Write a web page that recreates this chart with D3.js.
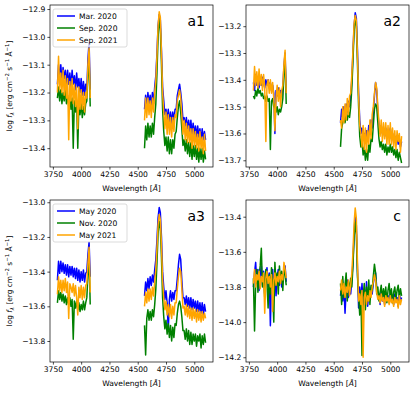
<!DOCTYPE html>
<meta charset="utf-8">
<script src="https://d3js.org/d3.v7.min.js"></script>
<style>
  body { margin: 0; background: #fff; }
  svg { font-family: "DejaVu Sans", sans-serif; }
  .tick text { fill: #000; }
</style>
<div id="viz_area"></div>
<script>
// wavelength grids (Angstrom) of the two spectral windows
var wlBlue = [3790, 3800, 3810, 3820, 3830, 3840, 3850, 3860, 3870, 3880, 3890, 3900, 3910, 3920, 3930,
  3940, 3950, 3960, 3970, 3980, 3990, 4000, 4010, 4020, 4030, 4040, 4050, 4060, 4070, 4080]
var wlRed = [4560, 4570, 4580, 4590, 4600, 4610, 4620, 4630, 4640, 4650, 4660, 4670, 4680, 4690, 4700,
  4710, 4720, 4730, 4740, 4750, 4760, 4770, 4780, 4790, 4800, 4810, 4820, 4830, 4840, 4850,
  4860, 4870, 4880, 4890, 4900, 4910, 4920, 4930, 4940, 4950, 4960, 4970, 4980, 4990, 5000,
  5010, 5020, 5030, 5040, 5050, 5060, 5070, 5080, 5090, 5100]

var xTicks = [3750, 4000, 4250, 4500, 4750, 5000]

// ---- a1 ----
var a1Names = ["Mar. 2020", "Sep. 2020", "Sep. 2021"]
var a1Ticks = [-12.9, -13.0, -13.1, -13.2, -13.3, -13.4]
var a1S1Blue = [-13.17, -13.10, -13.15, -13.10, -13.16, -13.11, -13.15, -13.12, -13.17, -13.12, -13.17, -13.13, -13.18, -13.12, -13.17,
  -13.14, -13.19, -13.13, -13.18, -13.15, -13.20, -13.15, -13.21, -13.16, -13.21, -13.17, -13.19, -13.08, -13.02, -13.19]
var a1S1Red = [-13.26, -13.21, -13.25, -13.20, -13.24, -13.21, -13.25, -13.20, -13.24, -13.18, -13.14, -13.06, -12.96, -12.92, -12.94,
  -13.05, -13.18, -13.23, -13.28, -13.26, -13.30, -13.26, -13.31, -13.27, -13.31, -13.27, -13.30, -13.26, -13.26, -13.21,
  -13.19, -13.17, -13.20, -13.24, -13.30, -13.29, -13.32, -13.29, -13.33, -13.30, -13.34, -13.30, -13.35, -13.31, -13.35,
  -13.32, -13.36, -13.32, -13.36, -13.33, -13.37, -13.33, -13.37, -13.34, -13.37]
var a1S2Blue = [-13.22, -13.18, -13.23, -13.19, -13.24, -13.20, -13.23, -13.19, -13.24, -13.21, -13.25, -13.21, -13.26, -13.22, -13.40,
  -13.23, -13.27, -13.23, -13.40, -13.24, -13.28, -13.24, -13.29, -13.25, -13.28, -13.24, -13.23, -13.14, -13.08, -13.25]
var a1S2Red = [-13.40, -13.32, -13.37, -13.31, -13.36, -13.32, -13.36, -13.31, -13.35, -13.29, -13.24, -13.13, -13.00, -12.94, -12.97,
  -13.10, -13.26, -13.34, -13.39, -13.36, -13.41, -13.36, -13.42, -13.37, -13.42, -13.37, -13.40, -13.35, -13.34, -13.29,
  -13.25, -13.23, -13.27, -13.33, -13.39, -13.37, -13.41, -13.37, -13.42, -13.38, -13.43, -13.38, -13.44, -13.39, -13.43,
  -13.39, -13.44, -13.40, -13.45, -13.40, -13.44, -13.40, -13.45, -13.41, -13.44]
var a1S3Blue = [-13.20, -13.07, -13.19, -13.13, -13.20, -13.12, -13.21, -13.14, -13.22, -13.15, -13.37, -13.16, -13.23, -13.15, -13.24,
  -13.17, -13.25, -13.18, -13.33, -13.18, -13.26, -13.19, -13.26, -13.20, -13.27, -13.20, -13.22, -13.10, -13.04, -13.22]
var a1S3Red = [-13.30, -13.22, -13.29, -13.22, -13.28, -13.23, -13.29, -13.22, -13.27, -13.20, -13.16, -13.07, -12.96, -12.91, -12.93,
  -13.06, -13.20, -13.27, -13.33, -13.27, -13.35, -13.28, -13.35, -13.29, -13.36, -13.29, -13.34, -13.28, -13.29, -13.23,
  -13.21, -13.19, -13.22, -13.28, -13.35, -13.30, -13.37, -13.31, -13.38, -13.32, -13.38, -13.33, -13.40, -13.33, -13.39,
  -13.34, -13.40, -13.35, -13.41, -13.34, -13.40, -13.36, -13.42, -13.35, -13.41]

// ---- a2 ----
var a2Ticks = [-13.2, -13.3, -13.4, -13.5, -13.6, -13.7]
var a2S1Blue = [-13.41, -13.44, -13.38, -13.42, -13.39, -13.43, -13.40, -13.42, -13.39, -13.41, -13.43, -13.40, -13.42, -13.40, -13.43,
  -13.41, -13.44, -13.42, -13.45, -13.60, -13.44, -13.46, -13.43, -13.45, -13.44, -13.46, -13.43, -13.35, -13.30, -13.45]
var a2S1Red = [-13.56, -13.51, -13.54, -13.50, -13.53, -13.49, -13.52, -13.48, -13.50, -13.46, -13.40, -13.30, -13.20, -13.15, -13.17,
  -13.29, -13.45, -13.55, -13.60, -13.58, -13.62, -13.60, -13.63, -13.59, -13.62, -13.57, -13.59, -13.55, -13.58, -13.52,
  -13.46, -13.41, -13.44, -13.52, -13.57, -13.60, -13.57, -13.60, -13.58, -13.61, -13.58, -13.62, -13.59, -13.61, -13.58,
  -13.62, -13.60, -13.63, -13.61, -13.64, -13.61, -13.64, -13.62, -13.65, -13.63]
var a2S2Blue = [-13.46, -13.47, -13.44, -13.46, -13.43, -13.45, -13.44, -13.46, -13.45, -13.47, -13.46, -13.48, -13.46, -13.48, -13.47,
  -13.66, -13.48, -13.47, -13.50, -13.49, -13.52, -13.50, -13.53, -13.51, -13.52, -13.50, -13.47, -13.38, -13.32, -13.49]
var a2S2Red = [-13.65, -13.58, -13.56, -13.54, -13.56, -13.53, -13.55, -13.52, -13.54, -13.50, -13.43, -13.33, -13.22, -13.17, -13.20,
  -13.34, -13.50, -13.61, -13.65, -13.63, -13.68, -13.65, -13.70, -13.66, -13.70, -13.64, -13.67, -13.62, -13.63, -13.57,
  -13.51, -13.49, -13.50, -13.56, -13.62, -13.65, -13.63, -13.66, -13.64, -13.67, -13.64, -13.68, -13.65, -13.67, -13.64,
  -13.67, -13.65, -13.68, -13.66, -13.69, -13.66, -13.70, -13.67, -13.69, -13.71]
var a2S3Blue = [-13.44, -13.35, -13.42, -13.37, -13.43, -13.36, -13.42, -13.38, -13.44, -13.38, -13.43, -13.63, -13.42, -13.40, -13.45,
  -13.40, -13.45, -13.41, -13.47, -13.59, -13.47, -13.42, -13.48, -13.43, -13.50, -13.44, -13.42, -13.34, -13.29, -13.45]
var a2S3Red = [-13.55, -13.58, -13.50, -13.56, -13.49, -13.55, -13.47, -13.53, -13.46, -13.45, -13.38, -13.29, -13.19, -13.16, -13.18,
  -13.31, -13.46, -13.57, -13.60, -13.65, -13.57, -13.66, -13.58, -13.67, -13.59, -13.64, -13.55, -13.62, -13.53, -13.50,
  -13.45, -13.41, -13.43, -13.50, -13.56, -13.61, -13.55, -13.63, -13.56, -13.62, -13.56, -13.64, -13.57, -13.64, -13.56,
  -13.64, -13.58, -13.65, -13.59, -13.66, -13.59, -13.63, -13.60, -13.67, -13.61]

// ---- a3 ----
var a3Names = ["May 2020", "Nov. 2020", "May 2021"]
var a3Ticks = [-13.0, -13.2, -13.4, -13.6, -13.8]
var a3S1Blue = [-13.45, -13.34, -13.41, -13.34, -13.40, -13.35, -13.41, -13.36, -13.42, -13.36, -13.43, -13.37, -13.42, -13.37, -13.43,
  -13.38, -13.44, -13.38, -13.45, -13.39, -13.46, -13.40, -13.45, -13.39, -13.46, -13.41, -13.40, -13.30, -13.23, -13.43]
var a3S1Red = [-13.54, -13.46, -13.51, -13.44, -13.50, -13.43, -13.48, -13.42, -13.46, -13.39, -13.33, -13.22, -13.09, -13.03, -13.06,
  -13.20, -13.40, -13.49, -13.56, -13.51, -13.58, -13.74, -13.56, -13.51, -13.57, -13.52, -13.56, -13.51, -13.51, -13.44,
  -13.36, -13.30, -13.33, -13.45, -13.55, -13.55, -13.59, -13.54, -13.60, -13.55, -13.61, -13.55, -13.62, -13.56, -13.61,
  -13.57, -13.63, -13.57, -13.63, -13.58, -13.64, -13.58, -13.65, -13.59, -13.63]
var a3S2Blue = [-13.58, -13.51, -13.56, -13.52, -13.57, -13.53, -13.58, -13.54, -13.59, -13.55, -13.59, -13.55, -13.60, -13.56, -13.79,
  -13.57, -13.61, -13.57, -13.62, -13.58, -13.63, -13.59, -13.62, -13.57, -13.62, -13.58, -13.55, -13.42, -13.31, -13.59]
var a3S2Red = [-13.71, -13.88, -13.67, -13.62, -13.68, -13.63, -13.68, -13.62, -13.66, -13.59, -13.50, -13.35, -13.18, -13.11, -13.15,
  -13.32, -13.55, -13.66, -13.73, -13.68, -13.76, -13.70, -13.78, -13.71, -13.80, -13.72, -13.78, -13.70, -13.71, -13.64,
  -13.59, -13.57, -13.60, -13.66, -13.74, -13.74, -13.79, -13.73, -13.80, -13.74, -13.82, -13.75, -13.82, -13.76, -13.80,
  -13.76, -13.83, -13.77, -13.80, -13.76, -13.84, -13.77, -13.82, -13.76, -13.81]
var a3S3Blue = [-13.53, -13.43, -13.51, -13.45, -13.52, -13.45, -13.51, -13.44, -13.52, -13.46, -13.67, -13.47, -13.49, -13.52, -13.47,
  -13.54, -13.48, -13.55, -13.65, -13.49, -13.55, -13.48, -13.56, -13.49, -13.55, -13.48, -13.47, -13.35, -13.26, -13.52]
var a3S3Red = [-13.60, -13.52, -13.58, -13.50, -13.57, -13.50, -13.56, -13.49, -13.54, -13.46, -13.39, -13.27, -13.13, -13.07, -13.10,
  -13.25, -13.45, -13.55, -13.62, -13.57, -13.65, -13.59, -13.66, -13.59, -13.67, -13.60, -13.65, -13.58, -13.58, -13.50,
  -13.43, -13.38, -13.40, -13.50, -13.61, -13.60, -13.65, -13.59, -13.66, -13.60, -13.67, -13.61, -13.68, -13.61, -13.67,
  -13.62, -13.69, -13.62, -13.68, -13.63, -13.69, -13.63, -13.68, -13.64, -13.67]

// ---- c ----
var cTicks = [-13.4, -13.6, -13.8, -14.0, -14.2]
var cS1Blue = [-13.80, -13.72, -13.66, -13.78, -13.70, -13.82, -13.73, -13.68, -13.79, -13.71, -13.84, -13.74, -13.69, -13.80, -13.72,
  -14.02, -13.75, -13.70, -13.81, -13.73, -13.85, -13.74, -13.70, -13.79, -13.72, -13.80, -13.74, -13.70, -13.68, -13.77]
var cS1Red = [-13.85, -13.78, -13.88, -13.80, -13.95, -13.82, -13.76, -13.86, -13.79, -13.84, -13.76, -13.66, -13.50, -13.39, -13.45,
  -13.70, -13.92, -13.80, -13.88, -13.78, -13.90, -13.81, -13.89, -13.77, -13.91, -13.83, -13.87, -13.80, -13.84, -13.78,
  -13.74, -13.72, -13.80, -13.86, -13.84, -13.90, -13.82, -13.88, -13.84, -13.90, -13.83, -13.87, -13.85, -13.89, -13.83,
  -13.88, -13.85, -13.90, -13.84, -13.88, -13.86, -13.91, -13.84, -13.88, -13.86]
var cS2Blue = [-13.75, -14.05, -13.78, -13.70, -13.83, -13.74, -13.68, -13.58, -13.80, -13.72, -13.86, -13.70, -13.78, -13.92, -13.73,
  -13.84, -13.69, -13.80, -14.00, -13.66, -13.79, -13.72, -13.84, -13.68, -13.77, -13.71, -13.82, -13.69, -13.73, -13.79]
var cS2Red = [-13.78, -13.90, -13.74, -13.86, -13.79, -13.72, -13.88, -13.77, -13.82, -13.75, -13.80, -13.68, -13.52, -13.43, -13.50,
  -13.74, -13.85, -13.96, -13.82, -14.19, -13.86, -13.78, -13.93, -13.80, -13.88, -13.76, -13.90, -13.79, -13.82, -13.74,
  -13.67, -13.72, -13.84, -13.80, -13.88, -13.83, -13.79, -13.87, -13.81, -13.86, -13.80, -13.89, -13.82, -13.78, -13.86,
  -13.81, -13.89, -13.83, -13.80, -13.87, -13.82, -13.79, -13.86, -13.81, -13.85]
var cS3Blue = [-13.78, -13.70, -13.80, -13.73, -13.76, -13.71, -13.81, -13.74, -13.77, -13.72, -13.95, -13.75, -13.71, -13.78, -13.74,
  -13.80, -13.73, -13.94, -13.76, -13.72, -13.79, -13.74, -13.77, -13.71, -13.78, -13.73, -13.76, -13.66, -13.70, -13.75]
var cS3Red = [-13.82, -13.76, -13.84, -13.78, -13.86, -13.80, -13.83, -13.76, -13.85, -13.79, -13.72, -13.60, -13.44, -13.35, -13.41,
  -13.66, -13.88, -13.84, -13.90, -13.82, -14.20, -13.86, -13.83, -13.90, -13.85, -13.88, -13.82, -13.86, -13.80, -13.77,
  -13.73, -13.76, -13.83, -13.87, -13.85, -13.89, -13.84, -13.88, -13.86, -13.91, -13.85, -13.88, -13.86, -13.90, -13.85,
  -13.89, -13.87, -13.91, -13.86, -13.89, -13.87, -13.92, -13.85, -13.90, -13.87]

var colors = ["#0000ff", "#008000", "#ffa500"]

var panels = [
  { label: "a1", left: 50, top: 5, yDom: [-13.4676, -12.8855], ticks: a1Ticks, names: a1Names, ylab: true,
    series: [[a1S1Blue, a1S1Red], [a1S2Blue, a1S2Red], [a1S3Blue, a1S3Red]] },
  { label: "a2", left: 246, top: 5, yDom: [-13.725, -13.121], ticks: a2Ticks, names: null, ylab: false,
    series: [[a2S1Blue, a2S1Red], [a2S2Blue, a2S2Red], [a2S3Blue, a2S3Red]] },
  { label: "a3", left: 50, top: 200, yDom: [-13.921, -12.987], ticks: a3Ticks, names: a3Names, ylab: true,
    series: [[a3S1Blue, a3S1Red], [a3S2Blue, a3S2Red], [a3S3Blue, a3S3Red]] },
  { label: "c", left: 246, top: 200, yDom: [-14.227, -13.305], ticks: cTicks, names: null, ylab: false,
    series: [[cS1Blue, cS1Red], [cS2Blue, cS2Red], [cS3Blue, cS3Red]] }
]

var W = 416, H = 396
var pw = 163, ph = 162

var svg = d3.select("#viz_area").append("svg")
  .attr("width", W).attr("height", H)

panels.forEach(function(p, pi) {
  var g = svg.append("g").attr("transform", "translate(" + p.left + "," + p.top + ")")
  var x = d3.scaleLinear().domain([3724.5, 5165.5]).range([0, pw])
  var y = d3.scaleLinear().domain(p.yDom).range([ph, 0])

  g.append("clipPath").attr("id", "clip" + pi)
    .append("rect").attr("width", pw).attr("height", ph)

  var line = d3.line()
    .x(function(d) { return x(d[0]) })
    .y(function(d) { return y(d[1]) })

  var plot = g.append("g").attr("clip-path", "url(#clip" + pi + ")")
  p.series.forEach(function(s, si) {
    [[wlBlue, s[0]], [wlRed, s[1]]].forEach(function(seg) {
      plot.append("path")
        .datum(d3.zip(seg[0], seg[1]))
        .attr("d", line)
        .attr("fill", "none")
        .attr("stroke", colors[si])
        .attr("stroke-width", 1.5)
        .attr("stroke-linejoin", "round")
    })
  })

  var xAxis = g.append("g")
    .attr("transform", "translate(0," + ph + ")")
    .call(d3.axisBottom(x).tickValues(xTicks).tickFormat(d3.format("d")).tickSize(2.6).tickPadding(2))
  var yAxis = g.append("g")
    .call(d3.axisLeft(y).tickValues(p.ticks).tickFormat(d3.format(".1f")).tickSize(2.6).tickPadding(2))
  ;[xAxis, yAxis].forEach(function(a) {
    a.select(".domain").remove()
    a.selectAll("text").attr("font-size", "7.6px").attr("font-family", "DejaVu Sans")
    a.selectAll("line").attr("stroke", "#000").attr("stroke-width", 0.7)
  })

  g.append("rect")
    .attr("width", pw).attr("height", ph)
    .attr("fill", "none").attr("stroke", "#000").attr("stroke-width", 0.7)

  var xl = g.append("text")
    .attr("x", pw / 2).attr("y", ph + 24)
    .attr("text-anchor", "middle")
    .attr("font-size", "7.6px")
  xl.append("tspan").text("Wavelength [")
  xl.append("tspan").attr("font-style", "italic").text("Å")
  xl.append("tspan").text("]")

  g.append("text")
    .attr("x", pw - 8).attr("y", 21)
    .attr("text-anchor", "end")
    .attr("font-size", "14px")
    .text(p.label)

  if (p.ylab) {
    var yl = g.append("text")
      .attr("transform", "translate(-38," + (ph / 2) + ") rotate(-90)")
      .attr("text-anchor", "middle")
      .attr("font-size", "7.4px")
    yl.append("tspan").text("log ")
    yl.append("tspan").attr("font-style", "italic").text("f")
    yl.append("tspan").attr("font-style", "italic").attr("font-size", "5.4px").attr("dy", 1.5).text("λ")
    yl.append("tspan").attr("dy", -1.5).text(" [erg cm")
    yl.append("tspan").attr("font-size", "5.4px").attr("dy", -3).text("−2")
    yl.append("tspan").attr("dy", 3).text(" s")
    yl.append("tspan").attr("font-size", "5.4px").attr("dy", -3).text("−1")
    yl.append("tspan").attr("dy", 3).text(" Å")
    yl.append("tspan").attr("font-size", "5.4px").attr("dy", -3).text("−1")
    yl.append("tspan").attr("dy", 3).text("]")
  }

  if (p.names) {
    var lg = g.append("g").attr("transform", "translate(3,4)")
    lg.append("rect")
      .attr("width", 74).attr("height", 38).attr("rx", 2)
      .attr("fill", "#fff").attr("fill-opacity", 0.8)
      .attr("stroke", "#ccc").attr("stroke-width", 0.7)
    p.names.forEach(function(n, i) {
      var row = lg.append("g").attr("transform", "translate(0," + (7 + i * 12) + ")")
      row.append("line").attr("x1", 4).attr("x2", 22)
        .attr("stroke", colors[i]).attr("stroke-width", 1.5)
      row.append("text").attr("x", 26).attr("y", 2.7)
        .attr("font-size", "7.6px").text(n)
    })
  }
})
</script>
